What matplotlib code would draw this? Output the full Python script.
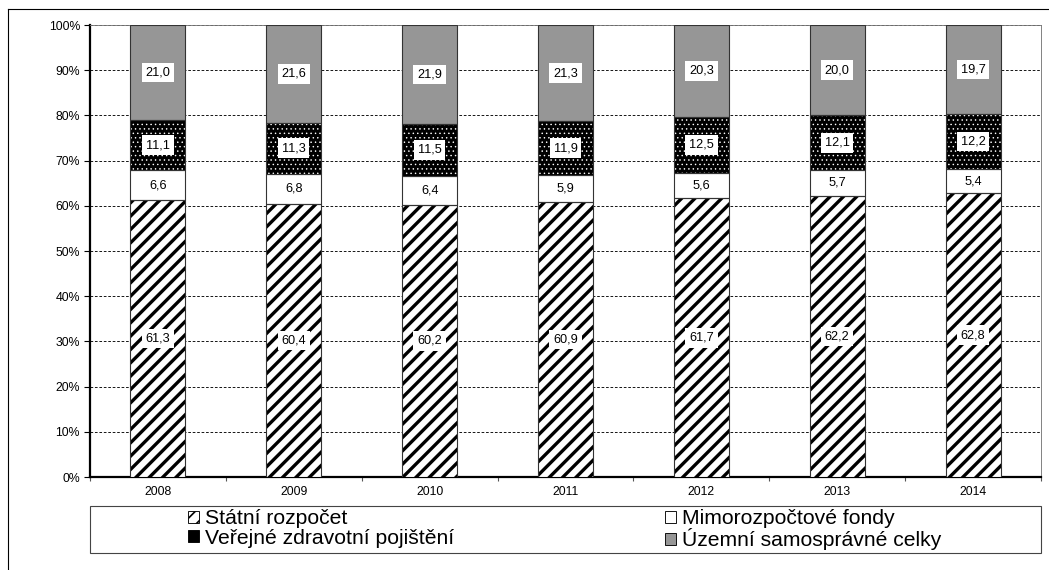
import numpy as np
import matplotlib
matplotlib.use('Agg')
import matplotlib.pyplot as plt
from matplotlib.patches import Rectangle, Patch
from matplotlib.lines import Line2D

plt.rcParams['font.family'] = ['Liberation Sans', 'DejaVu Sans']

roky = ['2008', '2009', '2010', '2011', '2012', '2013', '2014']
statni = [61.3, 60.4, 60.2, 60.9, 61.7, 62.2, 62.8]
mimo = [6.6, 6.8, 6.4, 5.9, 5.6, 5.7, 5.4]
vzp = [11.1, 11.3, 11.5, 11.9, 12.5, 12.1, 12.2]
uzemni = [21.0, 21.6, 21.9, 21.3, 20.3, 20.0, 19.7]

nazvy = ['Státní rozpočet', 'Mimorozpočtové fondy',
         'Veřejné zdravotní pojištění', 'Územní samosprávné celky']

DPI = 80
fig = plt.figure(figsize=(1049 / DPI, 570 / DPI), dpi=DPI)
ax = fig.add_axes([90 / 1049, 1 - 477 / 570, 951 / 1049, 452 / 570])

x = np.arange(len(roky))
w = 0.405
edge = '#333333'
seda = '#969696'

s = np.array(statni)
m = np.array(mimo)
v = np.array(vzp)
u = np.array(uzemni)
celkem = s + m + v + u
# podily v procentech
sp = s / celkem * 100
mp = m / celkem * 100
vp = v / celkem * 100
up = u / celkem * 100

plt.rcParams['hatch.linewidth'] = 3.0
b1 = ax.bar(x, sp, w, color='white', edgecolor='black', hatch='//', linewidth=0, zorder=3)
ax.bar(x, sp, w, fill=False, edgecolor=edge, linewidth=1, zorder=4)

b2 = ax.bar(x, mp, w, bottom=sp, color='white', edgecolor=edge, linewidth=1, zorder=3)

plt.rcParams['hatch.linewidth'] = 0.6
b3 = ax.bar(x, vp, w, bottom=sp + mp, color='black', linewidth=0, zorder=3)
ax.bar(x, vp, w, bottom=sp + mp, fill=False, edgecolor='white', hatch='...', linewidth=0, zorder=4)
ax.bar(x, vp, w, bottom=sp + mp, fill=False, edgecolor=edge, linewidth=1, zorder=5)

b4 = ax.bar(x, up, w, bottom=sp + mp + vp, color=seda, edgecolor=edge, linewidth=1, zorder=3)

# popisky hodnot
def popisky(hodnoty, spodek, vyska):
    for i in range(len(hodnoty)):
        txt = ('%.1f' % hodnoty[i]).replace('.', ',')
        ax.text(x[i], spodek[i] + vyska[i] / 2, txt, ha='center', va='center',
                fontsize=11.5, zorder=10,
                bbox=dict(boxstyle='square,pad=0.3', fc='white', ec='none'))

popisky(statni, np.zeros(len(x)), sp)
popisky(mimo, sp, mp)
popisky(vzp, sp + mp, vp)
popisky(uzemni, sp + mp + vp, up)

ax.set_xlim(-0.5, len(roky) - 0.5)
ax.set_ylim(0, 100)
ax.set_yticks(np.arange(0, 101, 10))
ax.set_yticklabels(['%d%%' % t for t in range(0, 101, 10)], fontsize=11)
ax.set_xticks(x)
ax.set_xticklabels(roky, fontsize=11)
ax.set_xticks(np.arange(-0.5, len(roky), 1), minor=True)
ax.tick_params(axis='x', which='major', length=0, pad=8)
ax.tick_params(axis='x', which='minor', length=4, width=1, color='#555555')
ax.tick_params(axis='y', length=5, width=1, pad=4)
ax.yaxis.grid(True, linestyle=(0, (3, 2)), color='black', linewidth=0.8, zorder=0)
ax.set_axisbelow(True)

for sp_ in ['top', 'right']:
    ax.spines[sp_].set_color('#777777')
    ax.spines[sp_].set_linewidth(0.8)
for sp_ in ['left', 'bottom']:
    ax.spines[sp_].set_color('black')
    ax.spines[sp_].set_linewidth(2)

# legenda
plt.rcParams['hatch.linewidth'] = 1.5
h1 = Patch(facecolor='white', edgecolor='black', hatch='//', linewidth=0.8)
h2 = Patch(facecolor='white', edgecolor='black', linewidth=0.8)
h3 = Patch(facecolor='black', edgecolor='black', linewidth=0.8)
h4 = Patch(facecolor=seda, edgecolor='black', linewidth=0.8)
leg = fig.legend([h1, h3, h2, h4], [nazvy[0], nazvy[2], nazvy[1], nazvy[3]],
                 ncol=2, loc='center', bbox_to_anchor=(565 / 1049, 1 - 530 / 570),
                 frameon=False, fontsize=19, handlelength=0.5, handleheight=0.5,
                 handletextpad=0.3, columnspacing=10.0, labelspacing=0.0,
                 borderpad=0)

fig.patches.append(Rectangle((90 / 1049, 1 - 553 / 570), 951 / 1049, 47 / 570,
                             transform=fig.transFigure, fill=False,
                             edgecolor='#444444', linewidth=1))

# vnejsi ramecek
fig.lines.append(Line2D([8 / 1049, 8 / 1049], [0, 1 - 9 / 570],
                        transform=fig.transFigure, color='black', linewidth=1))
fig.lines.append(Line2D([8 / 1049, 1], [1 - 9 / 570, 1 - 9 / 570],
                        transform=fig.transFigure, color='black', linewidth=1))

fig.savefig('out.png', dpi=DPI)
